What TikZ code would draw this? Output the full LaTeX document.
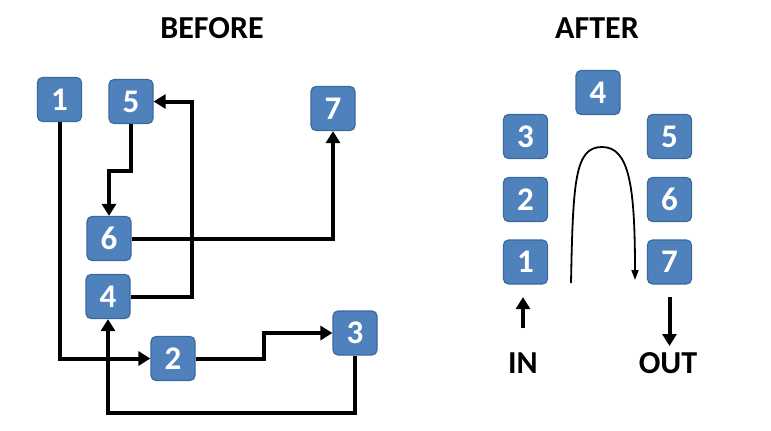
\documentclass[tikz,border=0pt]{standalone}
\usepackage{fontspec}
\setmainfont{Carlito}
\usepackage{tikz}
\usetikzlibrary{arrows.meta, calc, positioning}
\definecolor{hopxanh}{HTML}{4F81BD}
\definecolor{vienxanh}{HTML}{3A6A9C}

\begin{document}
\begin{tikzpicture}[x=1pt, y=-1pt, % Tỉ lệ hình
    hop/.style={draw=vienxanh, line width=1.2pt, fill=hopxanh, rounded corners=5pt,
                minimum size=44pt, inner sep=0pt, text=white,
                font=\bfseries\fontsize{33}{33}\selectfont},
    nhan/.style={font=\bfseries\fontsize{32}{32}\selectfont, inner sep=0pt},
    muiten/.style={line width=4pt, -{Triangle[length=12pt,width=14pt]}},
    muitenmanh/.style={line width=1.8pt, -{Triangle[length=10pt,width=7pt]}}]

            \useasboundingbox (0,0) rectangle (771,431); % Khung hình

            % Tiêu đề
            \node[nhan] (tieudeA) at (212,28) {BEFORE};
            \node[nhan] (tieudeB) at (597,28) {AFTER};

            % Các hộp bên trái
            \node[hop] (a1) at (59.5,99.5) {1};
            \node[hop] (a5) at (131,101.5) {5};
            \node[hop] (a7) at (333,108.5) {7};
            \node[hop] (a6) at (109,238.5) {6};
            \node[hop] (a4) at (108,296.5) {4};
            \node[hop] (a2) at (173,358.5) {2};
            \node[hop] (a3) at (355,333) {3};

            % Các mũi tên bên trái
            \draw[muiten] (a1.south) |- (a2.west); % 1 -> 2
            \draw[muiten] (a2.east) -- ++(68,0) |- (a3.west); % 2 -> 3
            \draw[muiten] (a3.south) -- ++(0,57) -| (a4.south); % 3 -> 4
            \draw[muiten] (a4.east) -| ([xshift=38pt]a5.east) -- (a5.east); % 4 -> 5
            \draw[muiten] (a5.south) -- ++(0,47) -| (a6.north); % 5 -> 6
            \draw[muiten] (a6.east) -| (a7.south); % 6 -> 7

            % Các hộp bên phải
            \node[hop] (b4) at (598,92.5) {4};
            \node[hop] (b3) at (525.5,136.5) {3};
            \node[hop] (b5) at (669.5,136.5) {5};
            \node[hop] (b2) at (525.5,199.5) {2};
            \node[hop] (b6) at (669.5,199.5) {6};
            \node[hop] (b1) at (525.5,262) {1};
            \node[hop] (b7) at (669.5,262) {7};

            % Đường cong chữ U ngược
            \coordinate (dau) at (571,283);
            \coordinate (dinh) at (602,147);
            \coordinate (cuoi) at (635,280);
            \draw[muitenmanh] (dau) .. controls (573,180) and (575,147) .. (dinh)
                  .. controls (629,147) and (635,185) .. (cuoi);

            % Vào và ra
            \node[nhan] (vao) at (523,363) {IN};
            \node[nhan] (ra) at (668,363) {OUT};
            \draw[muiten, shorten <=24pt, shorten >=12.5pt] (vao) -- (vao |- b1.south);
            \draw[muiten, shorten <=12.5pt, shorten >=17pt] (b7.south) -- (b7.south |- ra);

\end{tikzpicture}
\end{document}
